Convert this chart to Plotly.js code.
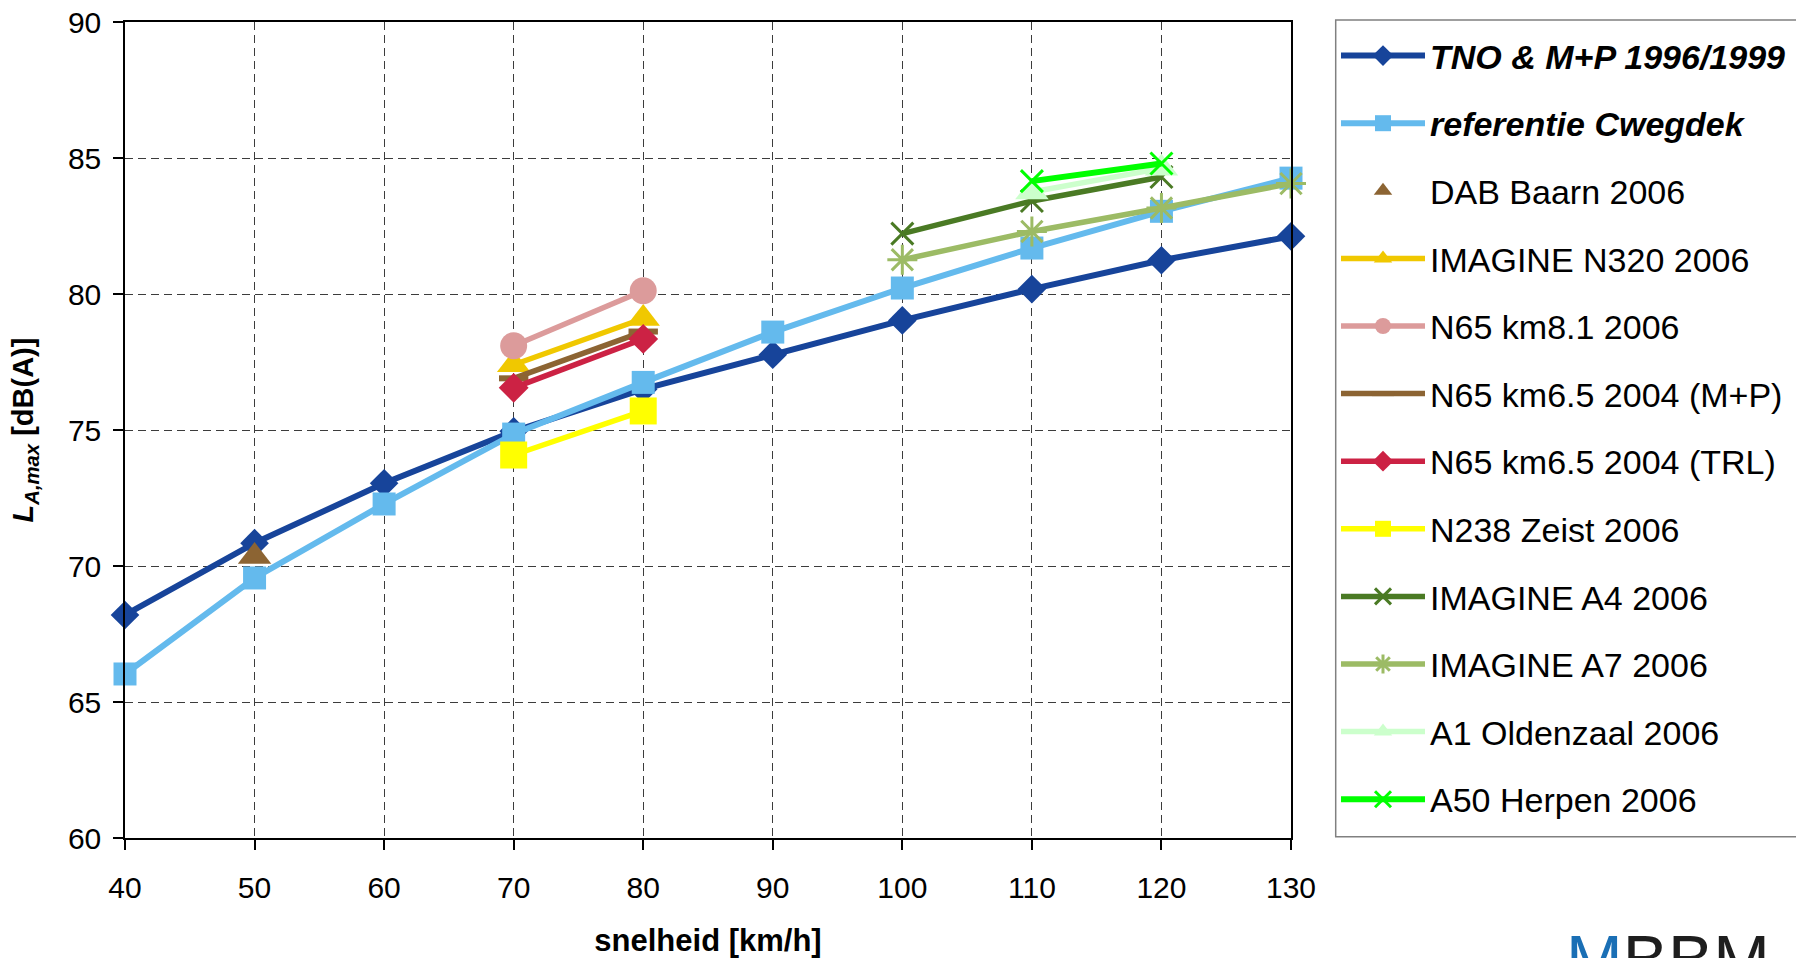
<!DOCTYPE html>
<html>
<head>
<meta charset="utf-8">
<script src="https://cdn.plot.ly/plotly-3.0.1.min.js"></script>
<style>
  html, body { margin: 0; padding: 0; background: #ffffff; }
  #chart { width: 1796px; height: 958px; }
</style>
</head>
<body>
<div id="chart"></div>
<script>
// ---- data ----
const speedsAll = [40, 50, 60, 70, 80, 90, 100, 110, 120, 130];
const tno = [68.2, 70.84, 73.04, 74.95, 76.5, 77.77, 79.03, 80.18, 81.24, 82.12];
const refC = [66.03, 69.56, 72.28, 74.85, 76.75, 78.6, 80.22, 81.69, 83.04, 84.26];

const dabX = [50];
const dabY = [70.35];

const lowX = [70, 80];
const n320 = [77.4, 79.1];
const n65km81 = [78.1, 80.12];
const n65mp = [76.9, 78.62];
const n65trl = [76.55, 78.35];
const n238 = [74.08, 75.7];

const a4X = [100, 110, 120];
const a4 = [82.22, 83.42, 84.3];
const a7X = [100, 110, 120, 130];
const a7 = [81.26, 82.3, 83.16, 84.06];
const highX = [110, 120];
const a1 = [83.75, 84.62];
const a50 = [84.15, 84.8];

const xTicks = [40, 50, 60, 70, 80, 90, 100, 110, 120, 130];
const yTicks = [60, 65, 70, 75, 80, 85, 90];

// ---- traces ----
function tr(name, x, y, color, symbol, size, opts) {
  opts = opts || {};
  return {
    type: 'scatter',
    mode: opts.mode || 'lines+markers',
    name: name,
    legendgroup: name,
    x: x, y: y,
    cliponaxis: false,
    line: { color: color, width: opts.lw || 5.5 },
    marker: {
      symbol: symbol, size: size,
      color: opts.mcolor || color,
      line: { color: opts.mlcolor || color, width: opts.mlw || 0 }
    },
    hoverinfo: 'x+y+name'
  };
}

const data = [
  tr('<b><i>TNO & M+P 1996/1999</i></b>', speedsAll, tno, '#17449a', 'diamond', 22, { lw: 6 }),
  tr('<b><i>referentie Cwegdek</i></b>', speedsAll, refC, '#64baed', 'square', 23, { lw: 6 }),
  tr('DAB Baarn 2006', dabX, dabY, '#8c6433', 'triangle-up', 29, { mode: 'markers' }),
  tr('IMAGINE N320 2006', lowX, n320, '#f0c800', 'triangle-up', 29),
  tr('N65 km8.1 2006', lowX, n65km81, '#dc9b9b', 'circle', 27),
  tr('N65 km6.5 2004 (M+P)', lowX, n65mp, '#8c6433', 'line-ew-open', 21, { mlw: 6 }),
  tr('N65 km6.5 2004 (TRL)', lowX, n65trl, '#cc2244', 'diamond', 23),
  tr('N238 Zeist 2006', lowX, n238, '#ffff00', 'square', 27),
  tr('IMAGINE A4 2006', a4X, a4, '#4a7a24', 'x-thin-open', 22, { mlw: 3 }),
  tr('IMAGINE A7 2006', a7X, a7, '#9cbb65', 'asterisk-open', 25, { mlw: 3 }),
  tr('A1 Oldenzaal 2006', highX, a1, '#ccffcc', 'triangle-up', 29),
  tr('A50 Herpen 2006', highX, a50, '#00ff00', 'x-thin-open', 22, { mlw: 3, lw: 6 })
];

// ---- layout helpers (pixel -> paper) ----
const W = 1796, H = 958;
const mL = 125, mR = W - 1291, mT = 22, mB = H - 838;
const pw = W - mL - mR, ph = H - mT - mB;
const px = v => (v - mL) / pw;
const py = v => (H - mB - v) / ph;

const layout = {
  width: W, height: H,
  margin: { l: mL, r: mR, t: mT, b: mB, pad: 0 },
  paper_bgcolor: '#ffffff',
  plot_bgcolor: '#ffffff',
  font: { family: '"Liberation Sans", Arial, sans-serif', color: '#000000', size: 30 },
  showlegend: true,
  xaxis: {
    range: [40, 130],
    tickvals: xTicks,
    ticktext: xTicks.map(String),
    showline: true, linecolor: '#000000', linewidth: 1.5, mirror: true,
    ticks: 'outside', ticklen: 10, tickwidth: 1.5, tickcolor: '#000000',
    tickfont: { size: 30 },
    ticklabelstandoff: 12,
    showgrid: true, gridcolor: '#3c3c3c', gridwidth: 1, griddash: '8px,5px',
    zeroline: false,
    title: { text: '<b>snelheid [km/h]</b>', font: { size: 31 }, standoff: 33 }
  },
  yaxis: {
    range: [60, 90],
    tickvals: yTicks,
    ticktext: yTicks.map(String),
    showline: true, linecolor: '#000000', linewidth: 1.5, mirror: true,
    ticks: 'outside', ticklen: 10, tickwidth: 1.5, tickcolor: '#000000',
    tickfont: { size: 30 },
    ticklabelstandoff: 6,
    showgrid: true, gridcolor: '#3c3c3c', gridwidth: 1, griddash: '8px,5px',
    zeroline: false,
    title: { text: '<b><i>L</i><sub><i>A,max</i></sub> [dB(A)]</b>', font: { size: 29 }, standoff: 26 }
  },
  legend: {
    xref: 'container', yref: 'container',
    x: 1336 / W, y: 1 - 27 / H,
    xanchor: 'left', yanchor: 'top',
    bgcolor: 'rgba(0,0,0,0)',
    borderwidth: 0,
    maxheight: 940,
    font: { size: 34, color: '#000000' },
    traceorder: 'grouped',
    tracegroupgap: 20.4,
    itemwidth: 84,
    itemclick: false, itemdoubleclick: false
  },
  shapes: [
    {
      type: 'rect', xref: 'paper', yref: 'paper', layer: 'below',
      x0: px(1335.7), x1: px(1830), y0: py(20), y1: py(836.7),
      line: { color: '#808080', width: 1.5 }, fillcolor: 'rgba(0,0,0,0)'
    }
  ],
  annotations: [
    {
      xref: 'paper', yref: 'paper',
      x: px(1564), y: py(919),
      xanchor: 'left', yanchor: 'top',
      showarrow: false,
      text: '<span style="color:#1a6fb5">M</span>BBM',
      font: { size: 68, color: '#1e1e1e', family: '"Liberation Sans", Arial, sans-serif' }
    }
  ]
};

Plotly.newPlot('chart', data, layout, { displayModeBar: false });
</script>
</body>
</html>
